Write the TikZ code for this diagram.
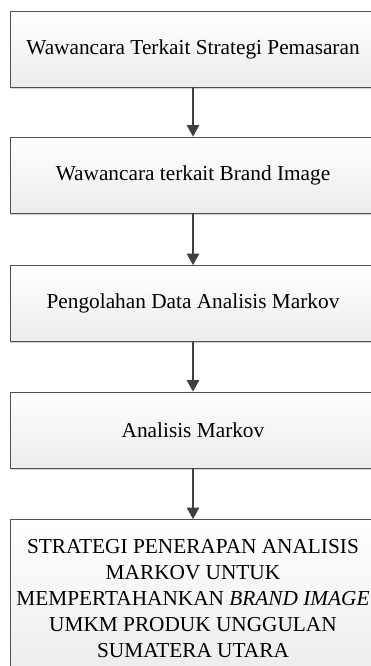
\documentclass[tikz,border=0pt]{standalone}
\usepackage{fontspec}
\setmainfont{Liberation Serif}
\usetikzlibrary{arrows.meta,shadows}

\definecolor{edge}{RGB}{80,80,80}
\definecolor{arrowc}{RGB}{64,64,64}
\definecolor{boxlow}{RGB}{236,236,236}

\tikzset{
  stepbox/.style={rectangle, draw=edge, line width=0.8pt,
    top color=white, bottom color=boxlow,
    minimum width=366pt, minimum height=76pt, inner sep=0pt,
    align=center, font=\fontsize{21.3}{26}\selectfont,
    drop shadow={shadow xshift=1.2pt, shadow yshift=-1.6pt, opacity=0.35, fill=gray}},
  flow/.style={draw=arrowc, line width=1.1pt,
    -{Triangle[width=12.5pt,length=11.5pt]}}
}

\begin{document}
\begin{tikzpicture}[x=1pt,y=1pt]
  \useasboundingbox (0,0) rectangle (371,-666);

  \node[stepbox] (s1) at (193,-49) {Wawancara Terkait Strategi Pemasaran};
  \node[stepbox] (s2) at (193,-175) {Wawancara terkait Brand Image};
  \node[stepbox] (s3) at (193,-303.5) {Pengolahan Data Analisis Markov};
  \node[stepbox] (s4) at (193,-430) {Analisis Markov};
  \node[stepbox, minimum height=158pt] (s5) at (193,-598.5)
    {STRATEGI PENERAPAN ANALISIS\\ MARKOV UNTUK\\
     MEMPERTAHANKAN \textit{BRAND IMAGE}\\ UMKM PRODUK UNGGULAN\\
     SUMATERA UTARA};

  \draw[flow] (s1) -- (s2);
  \draw[flow] (s2) -- (s3);
  \draw[flow] (s3) -- (s4);
  \draw[flow] (s4) -- (s5);
\end{tikzpicture}
\end{document}
